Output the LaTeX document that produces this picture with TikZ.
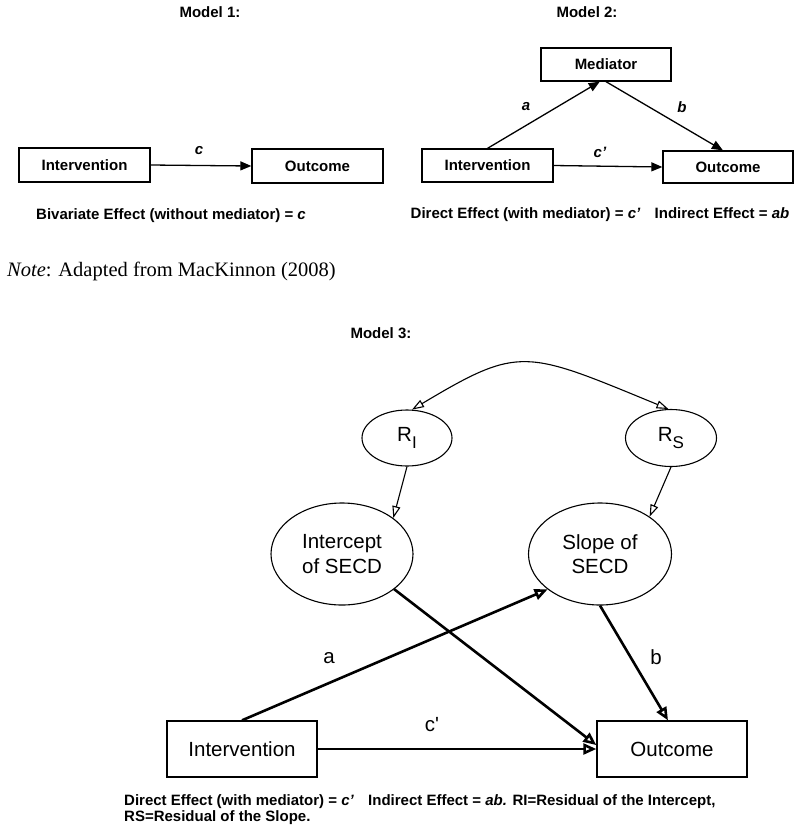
\documentclass[tikz,border=0pt]{standalone}
\usepackage{fontspec}
\setmainfont{Liberation Sans}
\newfontfamily\notefont{Liberation Serif}
\usetikzlibrary{arrows.meta,shapes.geometric}
\begin{document}
\begin{tikzpicture}[x=1pt,y=-1pt,
  bt/.style={font=\fontsize{15}{16.5}\selectfont\bfseries, inner sep=0pt},
  box1/.style={draw, line width=1.3pt, minimum width=131pt, minimum height=34pt, inner sep=0pt, font=\fontsize{15}{17}\selectfont\bfseries},
  arr1/.style={line width=1.3pt, -{Triangle[length=11pt,width=9pt]}},
  box3/.style={draw, line width=1.4pt, minimum width=150pt, minimum height=56pt, inner sep=0pt, font=\fontsize{20.5}{24}\selectfont},
  ell/.style={draw, ellipse, line width=1.1pt, inner sep=0pt, font=\fontsize{20.5}{24.5}\selectfont, align=center},
  thinarr/.style={line width=1.1pt, -{Triangle[open,length=12pt,width=8pt]}},
  thickarr/.style={line width=2.6pt, -{Triangle[open,length=13pt,width=11pt]}},
  lab3/.style={font=\fontsize{20.5}{24}\selectfont, inner sep=0pt},
]
\useasboundingbox (0,0) rectangle (800,831);

% ---------- Model 1 ----------
\node[bt] (t1) at (210,12) {Model 1:};
\node[box1] (I1) at (84.5,165) {Intervention};
\node[box1] (O1) at (317.5,166) {Outcome};
\draw[arr1] (I1.east) -- (O1.west);
\node[bt] (c1) at (199,151) {\itshape c};
\node[bt] (e1) at (171,216) {Bivariate Effect (without mediator) = \textit{c}};

% ---------- Model 2 ----------
\node[bt] (t2) at (587,12) {Model 2:};
\node[box1, minimum width=130pt, minimum height=33pt] (M2) at (606,64.5) {Mediator};
\node[box1, minimum height=33pt] (I2) at (487.5,165.5) {Intervention};
\node[box1, minimum width=130pt, minimum height=32pt] (O2) at (728,167) {Outcome};
\draw[arr1] (I2.north) -- (M2.250);
\draw[arr1] (M2.south) -- (O2.107);
\draw[arr1] (I2.east) -- (O2.west);
\node[bt] (a2) at (526,107) {\itshape a};
\node[bt] (b2) at (682,107) {\itshape b};
\node[bt] (c2) at (600,152) {\itshape c’};
\node[bt] (e2) at (600,215) {Direct Effect (with mediator) = \textit{c’}\hspace{10pt} Indirect Effect = \textit{ab}};

% ---------- Note ----------
\node[anchor=base west, inner sep=0pt, font=\notefont\fontsize{20.5}{23}\selectfont] (note) at (7,276) {\textit{Note}: Adapted from MacKinnon (2008)};

% ---------- Model 3 ----------
\node[bt] (t3) at (381,333) {Model 3:};
\node[ell, minimum width=90pt, minimum height=56pt] (RI) at (407,438) {R\raisebox{-7pt}{\fontsize{17}{17}\selectfont I}};
\node[ell, minimum width=91pt, minimum height=57pt] (RS) at (671,438) {R\raisebox{-7pt}{\fontsize{17}{17}\selectfont S}};
\node[ell, minimum width=142pt, minimum height=102pt] (Int) at (342,554) {Intercept\\of SECD};
\node[ell, minimum width=143pt, minimum height=102pt] (Slo) at (600,554) {Slope of\\SECD};
\node[box3] (I3) at (242,749) {Intervention};
\node[box3] (O3) at (672,749) {Outcome};

\draw[line width=1.1pt, {Triangle[open,length=12pt,width=8pt]}-{Triangle[open,length=12pt,width=8pt]}]
  (RI.80) .. controls (520,345) and (525,350) .. (RS.95);
\draw[thinarr] (RI.south) -- (Int.35);
\draw[thinarr] (RS.south) -- (Slo.37);
\draw[thickarr] (I3.north) -- (Slo.214);
\draw[thickarr] (Int.-34) -- (O3.177);
\draw[thickarr] (I3.east) -- (O3.west);
\draw[thickarr] (Slo.south) -- (O3.98);

\node[lab3] (a3) at (329,658) {a};
\node[lab3] (b3) at (656,657) {b};
\node[lab3] (c3) at (432,725) {c\textquotesingle};

\node[bt, align=left, anchor=north west] (e3) at (124,794) {Direct Effect (with mediator) = \textit{c’}\hspace{10pt} Indirect Effect = \textit{ab.} RI=Residual of the Intercept,\\RS=Residual of the Slope.};
\end{tikzpicture}
\end{document}
